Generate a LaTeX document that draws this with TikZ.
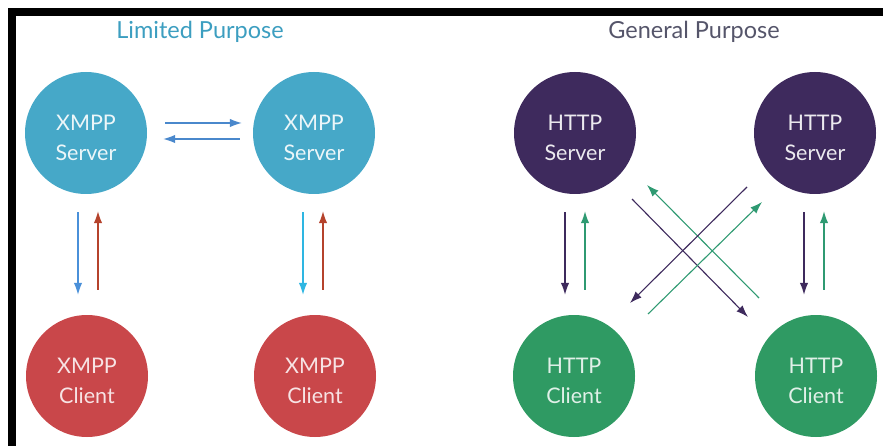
\documentclass[tikz,border=0pt]{standalone}
\usepackage{fontspec}
\setmainfont{Lato}
\usetikzlibrary{arrows.meta}

\definecolor{xmppserver}{HTML}{46A8C8}
\definecolor{xmppclient}{HTML}{C9474A}
\definecolor{httpserver}{HTML}{3E2A5D}
\definecolor{httpclient}{HTML}{2F9A63}
\definecolor{limitedtitle}{HTML}{3C9EC0}
\definecolor{generaltitle}{HTML}{55556A}
\definecolor{peerblue}{HTML}{4A88CC}
\definecolor{downblue}{HTML}{4A90D9}
\definecolor{downcyan}{HTML}{2EB6E2}
\definecolor{uprust}{HTML}{B5432C}
\definecolor{downpurple}{HTML}{3E2A5D}
\definecolor{upgreen}{HTML}{2F9A72}

\tikzset{
  party/.style={circle, minimum size=122pt, inner sep=0pt},
  partytext/.style={align=center, yshift=-5pt,
    font=\fontsize{21.5}{30}\selectfont},
  title/.style={font=\fontsize{23.5}{28}\selectfont},
  flow/.style={line width=1.3pt, -{Latex[length=12pt,width=8.5pt]}},
}

\begin{document}
\begin{tikzpicture}[x=1pt, y=-1pt]
\useasboundingbox (0,0) rectangle (883,446);

% frame bars along the top and left edges
\fill[black] (8,8) rectangle (883,16);
\fill[black] (8,8) rectangle (16,446);

% headings
\node[title, text=limitedtitle] (tl) at (200,32) {Limited Purpose};
\node[title, text=generaltitle] (tg) at (694,32) {General Purpose};

% XMPP side
\node[party, fill=xmppserver, label={[partytext, text=white!90!xmppserver]center:XMPP\\Server}] (xs1) at (86,133) {};
\node[party, fill=xmppserver, label={[partytext, text=white!90!xmppserver]center:XMPP\\Server}] (xs2) at (314,133) {};
\node[party, fill=xmppclient, label={[partytext, text=white!85!xmppclient]center:XMPP\\Client}] (xc1) at (87,376) {};
\node[party, fill=xmppclient, label={[partytext, text=white!85!xmppclient]center:XMPP\\Client}] (xc2) at (315,376) {};

% HTTP side
\node[party, fill=httpserver, label={[partytext, text=white!90!httpserver]center:HTTP\\Server}] (hs1) at (575,133) {};
\node[party, fill=httpserver, label={[partytext, text=white!90!httpserver]center:HTTP\\Server}] (hs2) at (815,133) {};
\node[party, fill=httpclient, label={[partytext, text=white!85!httpclient]center:HTTP\\Client}] (hc1) at (574,376) {};
\node[party, fill=httpclient, label={[partytext, text=white!85!httpclient]center:HTTP\\Client}] (hc2) at (816,376) {};

% server-to-server exchange
\draw[flow, peerblue, shorten <=18pt, shorten >=11pt]
  ([yshift=10pt]xs1.east) -- ([yshift=10pt]xs2.west);
\draw[flow, peerblue, shorten <=13pt, shorten >=16pt]
  ([yshift=-6pt]xs2.west) -- ([yshift=-6pt]xs1.east);

% XMPP server/client links
\draw[flow, downblue, shorten <=18pt, shorten >=20pt]
  ([xshift=-8pt]xs1.south) -- ([xshift=-9pt]xc1.north);
\draw[flow, uprust, shorten <=25pt, shorten >=17pt]
  ([xshift=11pt]xc1.north) -- ([xshift=12pt]xs1.south);
\draw[flow, downcyan, shorten <=18pt, shorten >=20pt]
  ([xshift=-11pt]xs2.south) -- ([xshift=-12pt]xc2.north);
\draw[flow, uprust, shorten <=25pt, shorten >=17pt]
  ([xshift=8pt]xc2.north) -- ([xshift=9pt]xs2.south);

% HTTP server/client links
\draw[flow, downpurple, shorten <=18pt, shorten >=20pt]
  ([xshift=-10pt]hs1.south) -- ([xshift=-9pt]hc1.north);
\draw[flow, upgreen, shorten <=25pt, shorten >=17pt]
  ([xshift=11pt]hc1.north) -- ([xshift=10pt]hs1.south);
\draw[flow, downpurple, shorten <=18pt, shorten >=20pt]
  ([xshift=-11pt]hs2.south) -- ([xshift=-12pt]hc2.north);
\draw[flow, upgreen, shorten <=25pt, shorten >=17pt]
  ([xshift=8pt]hc2.north) -- ([xshift=9pt]hs2.south);

% crossing links between the two HTTP pairs
\coordinate (pa1) at (632,199);
\coordinate (pa2) at (748,317);
\coordinate (ga1) at (759,298);
\coordinate (ga2) at (647,185);
\coordinate (pb1) at (747,187);
\coordinate (pb2) at (630,303);
\coordinate (gb1) at (648,314);
\coordinate (gb2) at (762,202);
\draw[flow, downpurple, line width=1.1pt] (pa1) -- (pa2);
\draw[flow, upgreen, line width=1.1pt] (ga1) -- (ga2);
\draw[flow, downpurple, line width=1.1pt] (pb1) -- (pb2);
\draw[flow, upgreen, line width=1.1pt] (gb1) -- (gb2);
\end{tikzpicture}
\end{document}
